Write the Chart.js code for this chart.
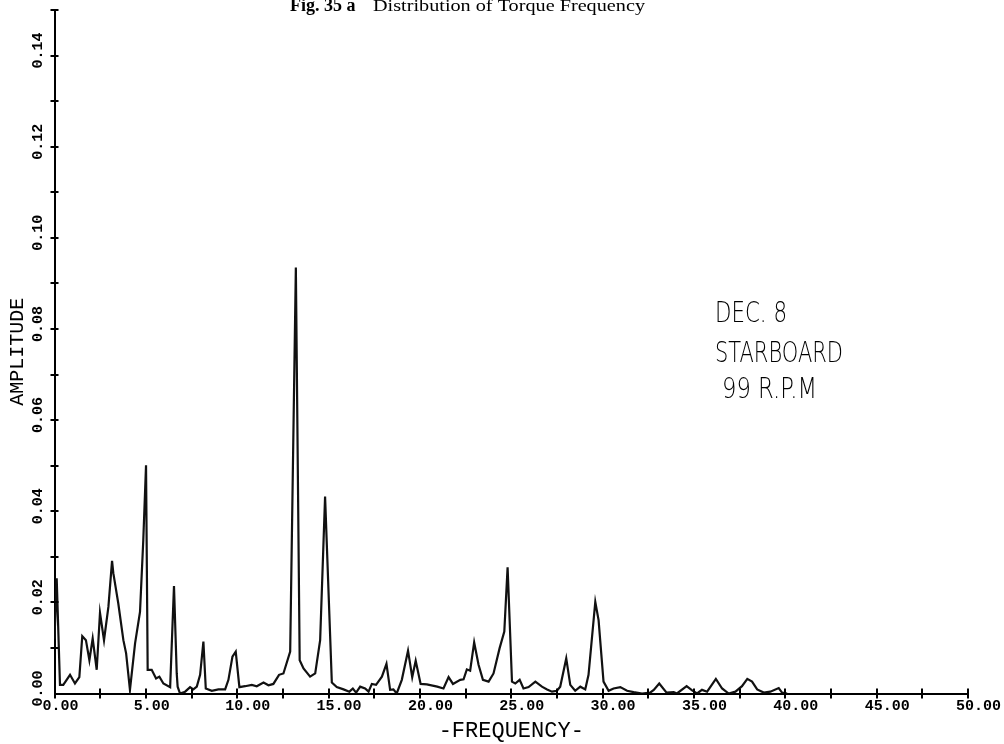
<!DOCTYPE html>
<html>
<head>
<meta charset="utf-8">
<script src="https://cdn.jsdelivr.net/npm/chart.js@4.4.1/dist/chart.umd.min.js"></script>
<style>
  html, body { margin: 0; padding: 0; background: #ffffff; }
  #wrap { width: 1004px; height: 744px; position: relative; }
</style>
</head>
<body>
<div id="wrap"><canvas id="c"></canvas></div>
<script>
// ---- data ----
const frequency = [
  0.00, 0.12, 0.30, 0.48, 0.85, 1.12, 1.36, 1.52, 1.72, 1.91,
  2.09, 2.31, 2.49, 2.71, 2.95, 3.15, 3.22, 3.49, 3.77, 3.92,
  4.13, 4.41, 4.68, 4.86, 5.01, 5.10, 5.32, 5.56, 5.74, 5.96,
  6.33, 6.54, 6.69, 6.74, 6.87, 7.15, 7.42, 7.60, 7.79, 7.97,
  8.15, 8.28, 8.61, 8.97, 9.34, 9.52, 9.74, 9.92, 10.12, 10.43,
  10.80, 11.07, 11.44, 11.71, 11.98, 12.29, 12.53, 12.90, 13.21, 13.42,
  13.63, 13.99, 14.27, 14.54, 14.81, 15.18, 15.45, 15.82, 16.14, 16.33,
  16.51, 16.73, 17.00, 17.19, 17.37, 17.60, 17.92, 18.17, 18.37, 18.55,
  18.73, 19.01, 19.35, 19.58, 19.77, 20.04, 20.38, 20.95, 21.29, 21.57,
  21.81, 22.21, 22.39, 22.57, 22.75, 22.97, 23.21, 23.45, 23.76, 24.03,
  24.36, 24.62, 24.80, 25.04, 25.22, 25.46, 25.67, 25.95, 26.32, 26.68,
  26.96, 27.23, 27.50, 27.68, 28.01, 28.23, 28.50, 28.78, 29.05, 29.23,
  29.60, 29.78, 30.05, 30.33, 30.60, 30.97, 31.34, 31.70, 32.16, 32.60,
  32.80, 33.10, 33.50, 33.89, 34.07, 34.60, 34.90, 35.17, 35.44, 35.72,
  36.20, 36.54, 36.90, 37.27, 37.63, 37.92, 38.18, 38.46, 38.82, 39.18,
  39.64, 39.82, 40.10
];
const amplitude = [
  0.0120, 0.0253, 0.0019, 0.0019, 0.0041, 0.0022, 0.0036, 0.0126, 0.0117, 0.0073,
  0.0121, 0.0052, 0.0177, 0.0117, 0.0190, 0.0291, 0.0264, 0.0198, 0.0117, 0.0088,
  0.0008, 0.0110, 0.0179, 0.0337, 0.0501, 0.0052, 0.0052, 0.0033, 0.0037, 0.0022,
  0.0014, 0.0236, 0.0044, 0.0015, 0.0000, 0.0004, 0.0014, 0.0009, 0.0015, 0.0041,
  0.0114, 0.0011, 0.0006, 0.0009, 0.0009, 0.0030, 0.0081, 0.0092, 0.0014, 0.0016,
  0.0019, 0.0016, 0.0024, 0.0018, 0.0021, 0.0041, 0.0044, 0.0092, 0.0935, 0.0073,
  0.0055, 0.0037, 0.0044, 0.0117, 0.0432, 0.0024, 0.0014, 0.0009, 0.0004, 0.0011,
  0.0002, 0.0015, 0.0011, 0.0004, 0.0021, 0.0019, 0.0037, 0.0065, 0.0008, 0.0009,
  0.0000, 0.0030, 0.0094, 0.0036, 0.0072, 0.0021, 0.0020, 0.0015, 0.0011, 0.0036,
  0.0021, 0.0030, 0.0031, 0.0053, 0.0050, 0.0112, 0.0063, 0.0030, 0.0026, 0.0044,
  0.0099, 0.0136, 0.0277, 0.0026, 0.0022, 0.0030, 0.0011, 0.0014, 0.0026, 0.0015,
  0.0009, 0.0004, 0.0006, 0.0015, 0.0077, 0.0019, 0.0006, 0.0015, 0.0009, 0.0041,
  0.0201, 0.0161, 0.0026, 0.0006, 0.0011, 0.0014, 0.0006, 0.0003, 0.0000, 0.0002,
  0.0008, 0.0022, 0.0002, 0.0003, 0.0000, 0.0016, 0.0007, 0.0000, 0.0008, 0.0004,
  0.0032, 0.0011, 0.0000, 0.0004, 0.0016, 0.0032, 0.0026, 0.0009, 0.0002, 0.0004,
  0.0012, 0.0002, 0.0000
];
const xTickStep = 2.5;
const yTickStep = 0.01;
const titleBold = 'Fig. 35 a';
const titleText = 'Distribution of Torque Frequency';
const noteLines = ['DEC. 8', 'STARBOARD', '99 R.P.M'];

const points = frequency.map((f, i) => ({ x: f, y: amplitude[i] }));

// crossing tick marks, rotated y labels, figure title and note
const decor = {
  id: 'decor',
  afterDraw(chart) {
    const ctx = chart.ctx;
    const xs = chart.scales.x, ys = chart.scales.y;
    const area = chart.chartArea;
    ctx.save();
    ctx.strokeStyle = '#000';
    ctx.lineWidth = 2;
    ctx.beginPath();
    xs.ticks.forEach(t => {
      const px = Math.round(xs.getPixelForValue(t.value));
      ctx.moveTo(px, area.bottom - 5);
      ctx.lineTo(px, area.bottom + 5);
    });
    ys.ticks.forEach(t => {
      if (t.value === 0) return;
      const py = Math.round(ys.getPixelForValue(t.value));
      ctx.moveTo(area.left - 4, py);
      ctx.lineTo(area.left + 4, py);
    });
    ctx.stroke();

    // y tick labels, rotated
    ctx.fillStyle = '#000';
    ctx.font = 'bold 15px "Liberation Mono"';
    ctx.textAlign = 'center';
    ctx.textBaseline = 'middle';
    ys.ticks.forEach(t => {
      const k = Math.round(t.value / yTickStep);
      if (k % 2 !== 0) return;
      const py = ys.getPixelForValue(t.value);
      ctx.save();
      ctx.translate(area.left - 16, py - 5);
      ctx.rotate(-Math.PI / 2);
      ctx.fillText(t.value.toFixed(2), 0, 0);
      ctx.restore();
    });

    // title (cut at top of page)
    ctx.textAlign = 'left';
    ctx.textBaseline = 'alphabetic';
    ctx.font = 'bold 18px "Liberation Serif"';
    ctx.fillText(titleBold, 290, 11);
    ctx.font = '17px "Liberation Serif"';
    const tw = ctx.measureText(titleText).width;
    ctx.save();
    ctx.translate(373, 11);
    ctx.scale(272 / tw, 1);
    ctx.fillText(titleText, 0, 0);
    ctx.restore();

    // note
    ctx.font = '200 28px "DejaVu Sans"';
    const notePos = [[715, 322, 72], [715, 362, 128], [722, 398, 95]];
    noteLines.forEach((s, i) => {
      const [nx, ny, nw] = notePos[i];
      const w = ctx.measureText(s).width;
      ctx.save();
      ctx.translate(nx, ny);
      ctx.scale(nw / w, 1);
      ctx.fillText(s, 0, 0);
      ctx.restore();
    });
    ctx.restore();
  }
};

new Chart(document.getElementById('c'), {
  type: 'line',
  data: {
    datasets: [{
      data: points,
      borderColor: '#111',
      borderWidth: 2.2,
      pointRadius: 0,
      tension: 0,
      fill: false
    }]
  },
  options: {
    responsive: true,
    maintainAspectRatio: false,
    animation: false,
    parsing: true,
    layout: { padding: { top: 10, right: 36, left: 0, bottom: 0 } },
    plugins: { legend: { display: false }, tooltip: { enabled: false }, title: { display: false } },
    scales: {
      x: {
        type: 'linear',
        position: 'bottom',
        min: 0, max: 50,
        grid: { display: false, drawTicks: false },
        border: { display: true, color: '#000', width: 2 },
        ticks: {
          stepSize: xTickStep,
          autoSkip: false,
          maxRotation: 0,
          align: 'start',
          labelOffset: -12,
          padding: 4,
          color: '#000',
          font: { family: '"Liberation Mono"', size: 15, weight: 'bold' },
          callback: v => (Math.abs(v / 5 - Math.round(v / 5)) < 1e-6 ? Number(v).toFixed(2) : '')
        },
        title: {
          display: true,
          text: '-FREQUENCY-',
          color: '#000',
          font: { family: '"Liberation Mono"', size: 22 },
          padding: { top: 0, bottom: 0 }
        },
        afterFit: s => { s.height = 50.5; s.paddingLeft = 0; s.paddingRight = 0; }
      },
      y: {
        type: 'linear',
        min: 0, max: 0.15,
        grid: { display: false, drawTicks: false },
        border: { display: true, color: '#000', width: 2 },
        ticks: { stepSize: yTickStep, display: false },
        title: {
          display: true,
          text: 'AMPLITUDE',
          color: '#000',
          font: { family: '"Liberation Mono"', size: 20 },
          padding: { top: 6, bottom: 0 }
        },
        afterFit: s => { s.width = 54.5; }
      }
    }
  },
  plugins: [decor]
});
</script>
</body>
</html>
